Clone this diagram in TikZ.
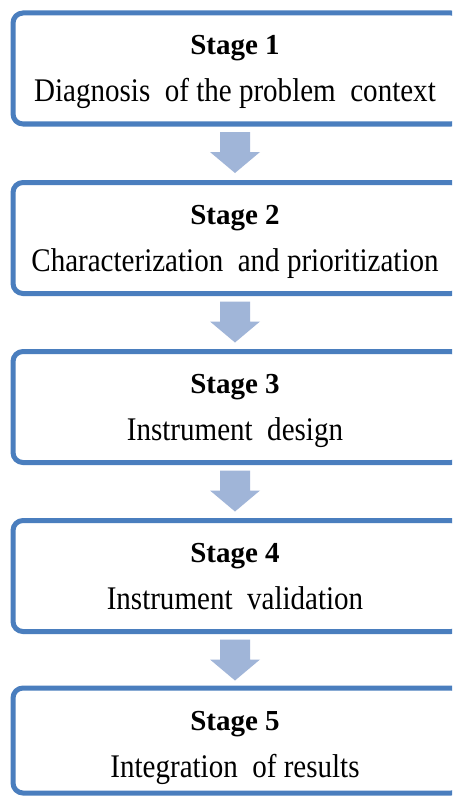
\documentclass[tikz,border=0pt]{standalone}
\usepackage{fontspec}
\setmainfont{Liberation Serif}
\newfontfamily\lineserif[FakeStretch=0.88]{Liberation Serif}
\definecolor{boxblue}{RGB}{74,126,190}
\definecolor{arrowblue}{RGB}{160,181,216}
\begin{document}
\begin{tikzpicture}[x=1pt,y=-1pt,
  stagebox/.style={draw=boxblue, line width=5pt, rounded corners=10pt, fill=white,
    minimum width=448pt, inner sep=0pt, outer sep=0pt},
  stagetitle/.style={anchor=base, inner sep=0pt, font=\fontsize{29}{34}\selectfont\bfseries},
  stagetext/.style={anchor=base, inner sep=0pt, font=\lineserif\fontsize{33}{38}\selectfont},
  arrowfill/.style={fill=arrowblue}]
\useasboundingbox[fill=white] (0,0) rectangle (452,797);
\begin{scope}
\clip (0,0) rectangle (452,797);
\node[stagebox, minimum height=111pt] (b1) at (237,68.5) {};
\node[stagebox, minimum height=111pt] (b2) at (237,238) {};
\node[stagebox, minimum height=111pt] (b3) at (237,407) {};
\node[stagebox, minimum height=111pt] (b4) at (237,576) {};
\node[stagebox, minimum height=105pt] (b5) at (237,740.5) {};
\end{scope}

\node[stagetitle] (s1) at ([shift={(-2pt,-42pt)}]b1.north) {Stage 1};
\node[stagetext]  (d1) at ([shift={(-2pt,-89pt)}]b1.north) {Diagnosis\ \ of the problem\ \ context};
\node[stagetitle] (s2) at ([shift={(-2pt,-42pt)}]b2.north) {Stage 2};
\node[stagetext]  (d2) at ([shift={(-2pt,-89pt)}]b2.north) {Characterization\ \ and prioritization};
\node[stagetitle] (s3) at ([shift={(-2pt,-42pt)}]b3.north) {Stage 3};
\node[stagetext]  (d3) at ([shift={(-2pt,-89pt)}]b3.north) {Instrument\ \ design};
\node[stagetitle] (s4) at ([shift={(-2pt,-42pt)}]b4.north) {Stage 4};
\node[stagetext]  (d4) at ([shift={(-2pt,-89pt)}]b4.north) {Instrument\ \ validation};
\node[stagetitle] (s5) at ([shift={(-2pt,-42pt)}]b5.north) {Stage 5};
\node[stagetext]  (d5) at ([shift={(-2pt,-89pt)}]b5.north) {Integration\ \ of results};

\foreach \a in {b1,b2,b3,b4}{
  \fill[arrowfill] ([shift={(-17pt,-8pt)}]\a.south) -- ([shift={(13pt,-8pt)}]\a.south)
    -- ([shift={(13pt,-28pt)}]\a.south) -- ([shift={(23pt,-28pt)}]\a.south)
    -- ([shift={(-2pt,-49pt)}]\a.south) -- ([shift={(-27pt,-28pt)}]\a.south)
    -- ([shift={(-17pt,-28pt)}]\a.south) -- cycle;
}
\end{tikzpicture}
\end{document}
